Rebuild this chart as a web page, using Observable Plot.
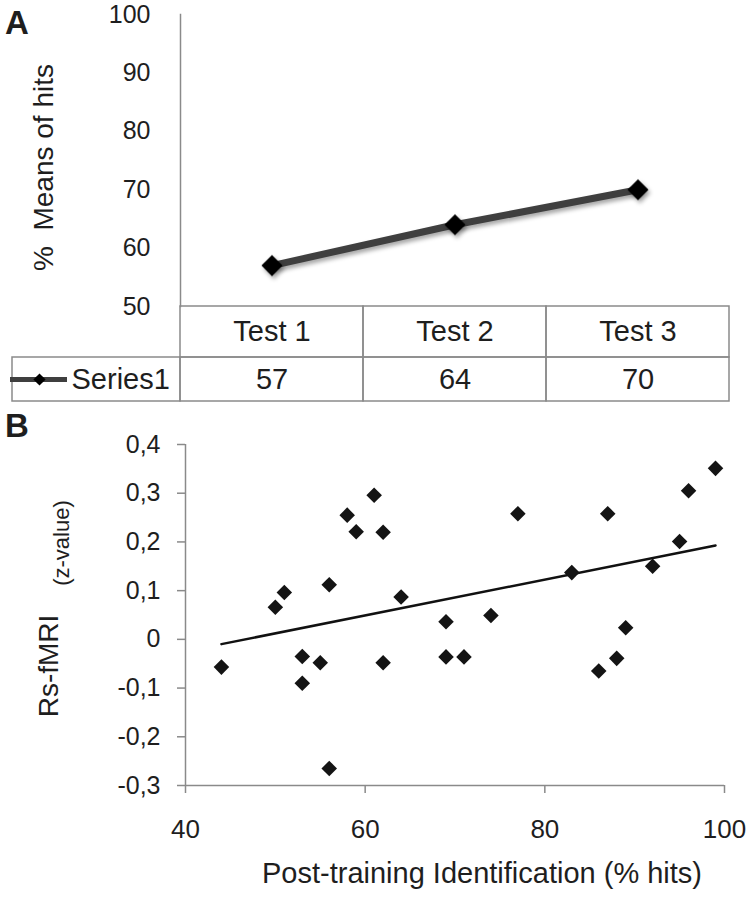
<!DOCTYPE html>
<html>
<head>
<meta charset="utf-8">
<script src="https://cdn.jsdelivr.net/npm/d3@7"></script>
<script src="https://cdn.jsdelivr.net/npm/@observablehq/plot@0.6"></script>
<style>
  html, body { margin: 0; padding: 0; background: #fff; }
  #fig { position: relative; width: 750px; height: 899px; background: #fff; font-family: "Liberation Sans", Arial, sans-serif; color: #1e1e1e; }
  #fig > svg { position: absolute; left: 0; }
  .panel { position: absolute; font-family: "Liberation Sans", Arial, sans-serif; font-weight: 900; font-size: 33px; line-height: 1; }
</style>
</head>
<body>
<div id="fig">
  <div class="panel" style="left:5px; top:6px;">A</div>
  <div class="panel" style="left:5px; top:409px;">B</div>
</div>
<script>
// ---------- data ----------
const tests = ["Test 1", "Test 2", "Test 3"];
const hitMeans = [57, 64, 70];
const seriesName = "Series1";
const yTicksA = [50, 60, 70, 80, 90, 100];
const yTitleA = "%  Means of hits";

const hitsB = [44, 50, 51, 53, 53, 55, 56, 56, 58, 59, 61, 62, 62, 64, 69, 69, 71, 74, 77, 83, 86, 87, 88, 89, 92, 95, 96, 99];
const rsB = [-0.057, 0.066, 0.096, -0.035, -0.09, -0.048, 0.112, -0.265, 0.255, 0.221, 0.296, 0.22, -0.048, 0.087, 0.036, -0.036, -0.036, 0.049, 0.258, 0.137, -0.065, 0.258, -0.039, 0.024, 0.15, 0.201, 0.305, 0.351];
const xTicksB = [40, 60, 80, 100];
const yTicksB = [-0.3, -0.2, -0.1, 0, 0.1, 0.2, 0.3, 0.4];
const yTitleB = "Rs-fMRI";
const yTitleBUnit = "(z-value)";
const xTitleB = "Post-training Identification (% hits)";

// ---------- helpers ----------
const fig = document.getElementById("fig");
const FONT = '"Liberation Sans", Arial, sans-serif';
const AXIS = "#8a8a8a";
const INK = "#1e1e1e";
function place(svg, top) { svg.style.top = top + "px"; fig.appendChild(svg); return svg; }

// ---------- Panel A: line chart ----------
const lineData = tests.map((t, i) => ({test: t, value: hitMeans[i]}));
const plotA = Plot.plot({
  width: 750, height: 310,
  marginLeft: 180, marginRight: 21, marginTop: 14, marginBottom: 4,
  style: {fontFamily: FONT, color: INK, background: "transparent", overflow: "visible"},
  x: {type: "band", domain: tests, padding: 0, axis: null},
  y: {domain: [50, 100]},
  marks: [
    Plot.frame({anchor: "left", stroke: AXIS, strokeWidth: 1.5}),
    Plot.axisY({ticks: yTicksA, tickSize: 0, tickPadding: 30, fontSize: 25, label: null}),
    Plot.text([yTitleA], {frameAnchor: "left", textAnchor: "middle", rotate: -90, dx: -136, dy: 7, fontSize: 28, fill: INK}),
    Plot.line(lineData, {x: "test", y: "value", stroke: "#3f3f3f", strokeWidth: 7}),
    Plot.dot(lineData, {x: "test", y: "value", symbol: "diamond2", r: 9.5, fill: "#000", stroke: "none"})
  ]
});
place(plotA, 0);
d3.select(plotA).selectAll('g[aria-label="line"], g[aria-label="dot"]')
  .style("filter", "drop-shadow(2px 3px 2px rgba(0,0,0,0.35))");

// ---------- Panel A: data table ----------
const colPx = (729 - 180) / tests.length;      // layout: pixel width of one category column
const labelW = (180 - 12) / colPx;             // layout: width of label column, in column units
const u = px => -labelW + px / colPx;          // layout: pixel offset inside label cell -> column units
const tableX = {domain: [-labelW, tests.length], axis: null};
const tableY = {domain: [0, 1], axis: null};
const headerCells = tests.map((t, i) => ({x1: i, x2: i + 1, text: t}));
const valueCells = [{x1: -labelW, x2: 0, text: ""}].concat(hitMeans.map((v, i) => ({x1: i, x2: i + 1, text: String(v)})));

const tableHead = Plot.plot({
  width: 750, height: 53,
  marginLeft: 12, marginRight: 21, marginTop: 1, marginBottom: 1,
  style: {fontFamily: FONT, color: INK, background: "transparent", overflow: "visible"},
  x: tableX, y: tableY,
  marks: [
    Plot.rect(headerCells, {x1: "x1", x2: "x2", y1: 0, y2: 1, fill: "none", stroke: AXIS, strokeWidth: 1.5}),
    Plot.text(headerCells, {x: d => (d.x1 + d.x2) / 2, y: 0.5, text: "text", fontSize: 29, fill: INK})
  ]
});
place(tableHead, 305);

const tableVals = Plot.plot({
  width: 750, height: 46,
  marginLeft: 12, marginRight: 21, marginTop: 1, marginBottom: 1,
  style: {fontFamily: FONT, color: INK, background: "transparent", overflow: "visible"},
  x: tableX, y: tableY,
  marks: [
    Plot.rect(valueCells, {x1: "x1", x2: "x2", y1: 0, y2: 1, fill: "none", stroke: AXIS, strokeWidth: 1.5}),
    Plot.text(valueCells, {x: d => (d.x1 + d.x2) / 2, y: 0.5, text: "text", fontSize: 29, fill: INK}),
    Plot.ruleY([0.5], {x1: u(-2), x2: u(55), stroke: "#3f3f3f", strokeWidth: 5}),
    Plot.dot([seriesName], {x: u(27), y: 0.5, symbol: "diamond2", r: 5.5, fill: "#000", stroke: "none"}),
    Plot.text([seriesName], {x: u(59), y: 0.5, text: d => d, textAnchor: "start", fontSize: 29, fill: INK})
  ]
});
place(tableVals, 356);

// ---------- Panel B: scatter with trend ----------
const points = hitsB.map((h, i) => ({hits: h, rs: rsB[i]}));
const fmtComma = d => d === 0 ? "0" : d.toFixed(1).replace(".", ",");
const plotB = Plot.plot({
  width: 750, height: 479,
  marginLeft: 185, marginRight: 26, marginTop: 24, marginBottom: 114,
  style: {fontFamily: FONT, color: INK, background: "transparent", overflow: "visible"},
  x: {domain: [40, 100]},
  y: {domain: [-0.3, 0.4]},
  marks: [
    Plot.axisY({ticks: yTicksB, tickFormat: fmtComma, tickSize: 8, tickPadding: 17, fontSize: 25, stroke: AXIS, strokeWidth: 1.5, fill: INK, label: null}),
    Plot.axisX({ticks: xTicksB, tickSize: 8, tickPadding: 26, fontSize: 26, stroke: AXIS, strokeWidth: 1.5, fill: INK, label: null}),
    Plot.ruleX([40], {stroke: AXIS, strokeWidth: 1.5}),
    Plot.ruleY([-0.3], {stroke: AXIS, strokeWidth: 1.5}),
    Plot.text([yTitleB], {frameAnchor: "left", textAnchor: "middle", rotate: -90, dx: -136, dy: 51, fontSize: 28, fill: INK}),
    Plot.text([yTitleBUnit], {frameAnchor: "left", textAnchor: "middle", rotate: -90, dx: -124, dy: -72, fontSize: 22, fill: INK}),
    Plot.text([xTitleB], {frameAnchor: "bottom", dx: 27, dy: 97, fontSize: 29, fill: INK}),
    Plot.linearRegressionY(points, {x: "hits", y: "rs", stroke: "#111", strokeWidth: 2.5, ci: 0}),
    Plot.dot(points, {x: "hits", y: "rs", symbol: "diamond2", r: 7, fill: "#141414", stroke: "none"})
  ]
});
place(plotB, 420);
</script>
</body>
</html>
